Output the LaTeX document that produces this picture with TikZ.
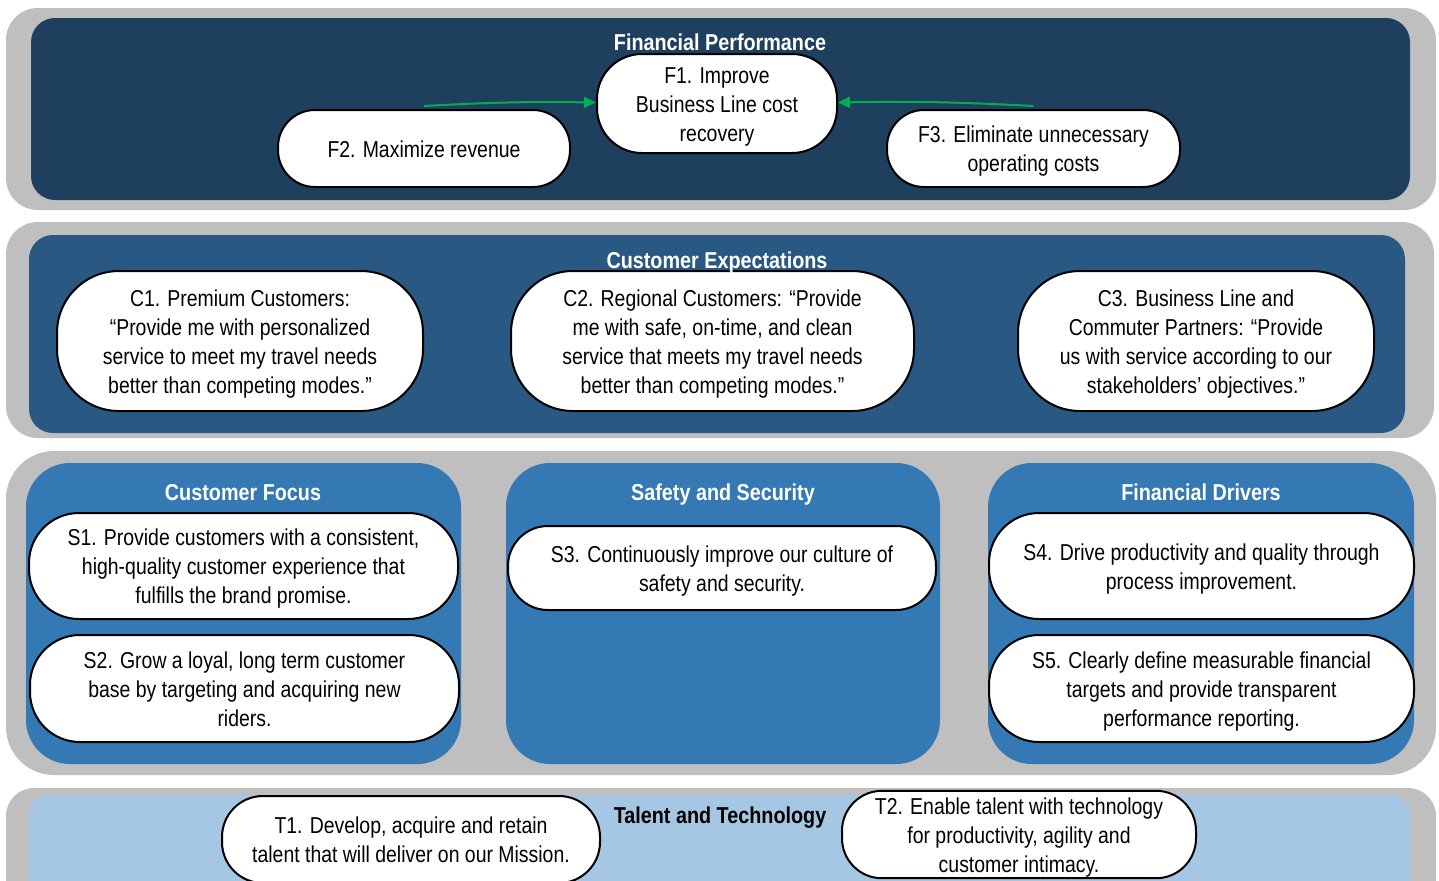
\documentclass[tikz,border=0pt]{standalone}
\usepackage{fontspec}
\setmainfont[FakeStretch=0.845]{Liberation Sans}
\newfontfamily\ttlfamily[FakeStretch=0.86]{Liberation Sans}
\usetikzlibrary{arrows.meta}
\newdimen\upx \upx=0.5pt
\definecolor{bandgray}{RGB}{191,191,191}
\definecolor{navyA}{RGB}{31,63,95}
\definecolor{navyB}{RGB}{41,88,130}
\definecolor{blueC}{RGB}{52,120,180}
\definecolor{lightD}{RGB}{166,199,228}
\definecolor{arrowgreen}{RGB}{0,176,80}
\newcommand\objfont{\fontsize{11.5pt}{14.5pt}\selectfont}
\newcommand\ttlfont{\ttlfamily\fontsize{11.5pt}{13pt}\selectfont\bfseries}
\newcommand\topstrut{\rule[-0.25em]{0pt}{1.28em}}
\newcommand\botstrut{\rule[-0.25em]{0pt}{1.2em}}
\newcommand\ml[1]{\topstrut#1\botstrut}
\tikzset{
  band/.style={fill=bandgray, rounded corners=#1},
  panel/.style={fill=#1, rounded corners=12pt},
  obj/.style={draw=black, line width=1pt, fill=white, align=center, inner sep=0pt, rounded corners=#1, font=\objfont},
  ttl/.style={font=\ttlfont, text=white, inner sep=0pt, text height=0.72em, text depth=0.2em},
  garrow/.style={draw=arrowgreen, line width=1pt, -{Triangle[length=6pt,width=5.5pt]}}
}
\begin{document}
\begin{tikzpicture}[x=0.5pt,y=-0.5pt]
\useasboundingbox (0,0) rectangle (1439,880);
\clip (0,0) rectangle (1439,880);
\fill[white] (0,0) rectangle (1439,880);
% gray bands
\fill[band=16pt] (6,8) rectangle (1436,210);
\fill[band=16pt] (6,222) rectangle (1434,438);
\fill[band=24pt] (6,451) rectangle (1436,775);
\fill[band=14pt] (6,788) rectangle (1436,920);
% panels
\fill[panel=navyA] (31,18) rectangle (1410,200);
\fill[panel=navyB] (29,235) rectangle (1405,433);
\fill[blueC, rounded corners=22pt] (26,463) rectangle (461,764);
\fill[blueC, rounded corners=22pt] (506,463) rectangle (940,764);
\fill[blueC, rounded corners=22pt] (988,463) rectangle (1414,764);
\fill[lightD, rounded corners=10pt] (29,795) rectangle (1410,920);
% Financial performance
\node[obj=22.5pt, minimum width=240\upx, minimum height=99\upx] (F1) at (717,103.5) {\ml{F1. Improve\\Business Line cost\\recovery}};
\node[obj=18.5pt, minimum width=292\upx, minimum height=77\upx] (F2) at (424,148.5) {\ml{F2. Maximize revenue}};
\node[obj=18.5pt, minimum width=293\upx, minimum height=77\upx] (F3) at (1033.5,148.5) {\ml{F3. Eliminate unnecessary\\operating costs}};
\draw[garrow] ([yshift=1.5pt]F2.north) to[bend left=2] ([yshift=0.5pt]F1.west);
\draw[garrow] ([yshift=1.5pt]F3.north) to[bend right=2] ([yshift=0.5pt]F1.east);
\node[ttl] (tFP) at (720,45) {Financial Performance};
% Customer expectations
\node[obj=31pt, minimum width=366\upx, minimum height=140\upx] (C1) at (240,341) {\ml{C1. Premium Customers:\\“Provide me with personalized\\service to meet my travel needs\\better than competing modes.”}};
\node[obj=31pt, minimum width=403\upx, minimum height=140\upx] (C2) at (712.5,341) {\ml{C2. Regional Customers: “Provide\\me with safe, on-time, and clean\\service that meets my travel needs\\better than competing modes.”}};
\node[obj=31pt, minimum width=356\upx, minimum height=140\upx] (C3) at (1196,341) {\ml{C3. Business Line and\\Commuter Partners: “Provide\\us with service according to our\\stakeholders’ objectives.”}};
\node[ttl] (tCE) at (717,263) {Customer Expectations};
% Strategy
\node[ttl] (tCF) at (243,495) {Customer Focus};
\node[ttl] (tSS) at (723,495) {Safety and Security};
\node[ttl] (tFD) at (1201,495) {Financial Drivers};
\node[obj=25pt, minimum width=429\upx, minimum height=106\upx] (S1) at (243.5,566) {\ml{S1. Provide customers with a consistent,\\high-quality customer experience that\\fulfills the brand promise.}};
\node[obj=25pt, minimum width=429\upx, minimum height=107\upx] (S2) at (244.5,688.5) {\ml{S2. Grow a loyal, long term customer\\base by targeting and acquiring new\\riders.}};
\node[obj=20pt, minimum width=428\upx, minimum height=84\upx] (S3) at (722,568) {\ml{S3. Continuously improve our culture of\\safety and security.}};
\node[obj=25pt, minimum width=425\upx, minimum height=106\upx] (S4) at (1201.5,566) {\ml{S4. Drive productivity and quality through\\process improvement.}};
\node[obj=25pt, minimum width=425\upx, minimum height=107\upx] (S5) at (1201.5,688.5) {\ml{S5. Clearly define measurable financial\\targets and provide transparent\\performance reporting.}};
% Talent and technology
\node[ttl, text=black] (tTT) at (720,818) {Talent and Technology};
\node[obj=20.5pt, minimum width=378\upx, minimum height=87\upx] (T1) at (411,839.5) {\ml{T1. Develop, acquire and retain\\talent that will deliver on our Mission.}};
\node[obj=20pt, minimum width=354\upx, minimum height=83\upx] (T2) at (1019,834.5) {\ml{T2. Enable talent with technology\\for productivity, agility and\\customer intimacy.}};
\end{tikzpicture}
\end{document}
